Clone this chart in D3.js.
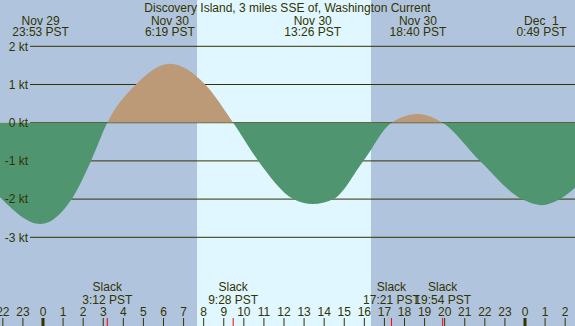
<!DOCTYPE html>
<html>
<head>
<meta charset="utf-8">
<script src="https://cdn.jsdelivr.net/npm/d3@7"></script>
<style>
  html, body { margin: 0; padding: 0; background: #b0c4de; }
  svg { display: block; font-family: "Liberation Sans", Arial, sans-serif; font-size: 12px; }
  text { white-space: pre; }
</style>
</head>
<body>
<svg id="chart" width="575" height="326"></svg>
<script>
// ---- data (hours relative to Nov 30 00:00 PST) ----
const title = "Discovery Island, 3 miles SSE of, Washington Current";
const curveHours  = [-2.14, -0.12, 1.43, 2.39, 3.20, 4.63, 6.32, 8.07, 9.47, 10.72, 12.47, 13.43, 14.46, 15.95, 17.35, 18.67, 19.90, 21.76, 23.84, 24.82, 25.74, 26.49];
const curveValues = [-1.95, -2.65, -2.0, -1.0, 0, 1.0, 1.54, 1.0, 0, -1.0, -2.0, -2.13, -2.0, -1.0, 0, 0.23, 0, -1.0, -2.0, -2.16, -2.0, -1.7];
const extremaHours  = [-0.12, 6.32, 13.43, 18.67, 24.82];
const extremaDates  = ["Nov 29", "Nov 30", "Nov 30", "Nov 30", "Dec  1"];
const extremaTimes  = ["23:53 PST", "6:19 PST", "13:26 PST", "18:40 PST", "0:49 PST"];
const slackHours = [3.20, 9.47, 17.35, 19.90];
const slackTimes = ["3:12 PST", "9:28 PST", "17:21 PST", "19:54 PST"];
const sunrise = 7.67, sunset = 16.33;
const yTicks = [2, 1, 0, -1, -2, -3];
const hourTicks = d3.range(-2, 27);

// ---- layout ----
const W = 575, H = 326;
const ink = "#333300";
const svg = d3.select("#chart");
const x = d3.scaleLinear().domain([0, 24]).range([43, 525]);
const y = d3.scaleLinear().domain([0, 1]).range([122.7, 84.5]);

svg.append("rect").attr("x", 0).attr("y", 0).attr("width", W).attr("height", H).attr("fill", "#b0c4de");
svg.append("rect").attr("x", x(sunrise)).attr("y", 0)
  .attr("width", x(sunset) - x(sunrise)).attr("height", H).attr("fill", "#e0f7ff");

// gridlines
svg.append("g").selectAll("line").data(yTicks).join("line")
  .attr("x1", 30).attr("x2", W).attr("y1", d => y(d)).attr("y2", d => y(d))
  .attr("stroke", ink).attr("stroke-width", 1);

// current area
const pts = curveHours.map((h, i) => [h, curveValues[i]]);
const area = d3.area().x(d => x(d[0])).y0(y(0)).y1(d => y(d[1])).curve(d3.curveMonotoneX);
const defs = svg.append("defs");
defs.append("clipPath").attr("id", "pos").append("rect")
  .attr("x", 0).attr("y", 0).attr("width", W).attr("height", y(0));
defs.append("clipPath").attr("id", "neg").append("rect")
  .attr("x", 0).attr("y", y(0)).attr("width", W).attr("height", H);
svg.append("path").datum(pts).attr("d", area).attr("fill", "#bc9a78").attr("clip-path", "url(#pos)");
svg.append("path").datum(pts).attr("d", area).attr("fill", "#4f9670").attr("clip-path", "url(#neg)");

// y labels (above fill)
svg.append("g").selectAll("text").data(yTicks).join("text")
  .attr("x", 28).attr("y", d => y(d)).attr("dy", "0.36em")
  .attr("text-anchor", "end").attr("fill", ink)
  .text(d => d + " kt");

// title
svg.append("text").attr("x", W / 2).attr("y", 12).attr("text-anchor", "middle").attr("fill", ink).text(title);

// extrema labels
const ex = svg.append("g").selectAll("g").data(extremaHours).join("g");
ex.append("text").attr("x", d => x(d)).attr("y", 24.5).attr("text-anchor", "middle").attr("fill", ink)
  .text((d, i) => extremaDates[i]);
ex.append("text").attr("x", d => x(d)).attr("y", 36).attr("text-anchor", "middle").attr("fill", ink)
  .text((d, i) => extremaTimes[i]);

// slack labels
const sl = svg.append("g").selectAll("g").data(slackHours).join("g");
sl.append("text").attr("x", d => x(d)).attr("y", 291).attr("text-anchor", "middle").attr("fill", ink).text("Slack");
sl.append("text").attr("x", d => x(d)).attr("y", 303.5).attr("text-anchor", "middle").attr("fill", ink)
  .text((d, i) => slackTimes[i]);

// hour ticks
const ht = svg.append("g");
ht.selectAll("line").data(hourTicks).join("line")
  .attr("x1", d => x(d)).attr("x2", d => x(d)).attr("y1", 318).attr("y2", H)
  .attr("stroke", ink).attr("stroke-width", d => ((d % 24) + 24) % 24 === 0 ? 3 : 1);
ht.selectAll("text").data(hourTicks).join("text")
  .attr("x", d => x(d)).attr("y", 316).attr("text-anchor", "middle").attr("fill", ink)
  .text(d => ((d % 24) + 24) % 24);

// slack red ticks
svg.append("g").selectAll("line").data(slackHours).join("line")
  .attr("x1", d => x(d)).attr("x2", d => x(d)).attr("y1", 318).attr("y2", H)
  .attr("stroke", "#ff0000").attr("stroke-width", 1);
</script>
</body>
</html>
